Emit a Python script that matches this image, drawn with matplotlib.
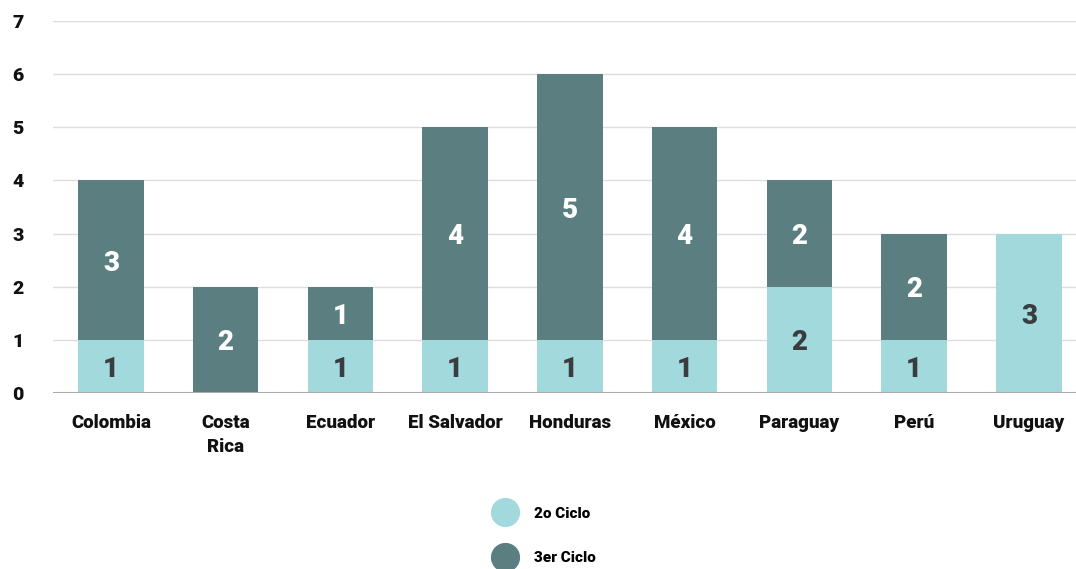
import matplotlib
matplotlib.use("Agg")
import matplotlib.pyplot as plt
from matplotlib.lines import Line2D
import numpy as np

categories = ["Colombia", "Costa\nRica", "Ecuador", "El Salvador", "Honduras",
              "México", "Paraguay", "Perú", "Uruguay"]
ciclo2 = [1, 0, 1, 1, 1, 1, 2, 1, 3]
ciclo3 = [3, 2, 1, 4, 5, 4, 2, 2, 0]
series_names = ["2o Ciclo", "3er Ciclo"]
yticks = [0, 1, 2, 3, 4, 5, 6, 7]

c_light = "#a2d9dd"
c_dark = "#5b7f80"

plt.rcParams['font.family'] = ['Roboto', 'DejaVu Sans']
plt.rcParams['font.weight'] = 'bold'

fig = plt.figure(figsize=(10.76, 5.69), dpi=100)
ax = fig.add_axes([0.0493, 0.3093, 0.9507, 0.6537])

x = np.arange(len(categories))
w = 0.57
ax.bar(x, ciclo2, w, color=c_light, zorder=3)
ax.bar(x, ciclo3, w, bottom=ciclo2, color=c_dark, zorder=3)

for i in range(len(categories)):
    if ciclo2[i] > 0:
        ax.text(x[i], ciclo2[i] / 2, str(ciclo2[i]), ha='center', va='center_baseline',
                color='#3a3d3f', fontsize=20, fontweight='black', zorder=4)
    if ciclo3[i] > 0:
        ax.text(x[i], ciclo2[i] + ciclo3[i] / 2, str(ciclo3[i]), ha='center', va='center_baseline',
                color='white', fontsize=20, fontweight='black', zorder=4)

ax.set_ylim(0, 7)
ax.set_xlim(-0.504, 8.41)
ax.set_yticks(yticks)
ax.set_yticklabels([str(t) for t in yticks], fontsize=14, fontweight='black', color='#111111')
ax.set_xticks(x)
ax.set_xticklabels(categories, fontsize=13.5, fontweight='black', color='#111111', linespacing=1.45)
ax.tick_params(axis='both', length=0)
ax.tick_params(axis='y', pad=29.5)
for lbl in ax.get_yticklabels():
    lbl.set_horizontalalignment('left')
ax.tick_params(axis='x', pad=15)
for s in ax.spines.values():
    s.set_visible(False)
ax.grid(axis='y', color='#dddddd', linewidth=1, zorder=0)
ax.axhline(0, color='#aaaaaa', linewidth=1.5, zorder=5)

handles = [Line2D([], [], marker='o', linestyle='none', markersize=20,
                  markerfacecolor=c, markeredgecolor=c) for c in (c_light, c_dark)]
fig.legend(handles, series_names, loc='center', bbox_to_anchor=(0.5045, 0.058),
           frameon=False, labelspacing=2.0, handletextpad=0.85,
           prop={'weight': 'black', 'size': 11})

fig.savefig("out.png", dpi=100)
